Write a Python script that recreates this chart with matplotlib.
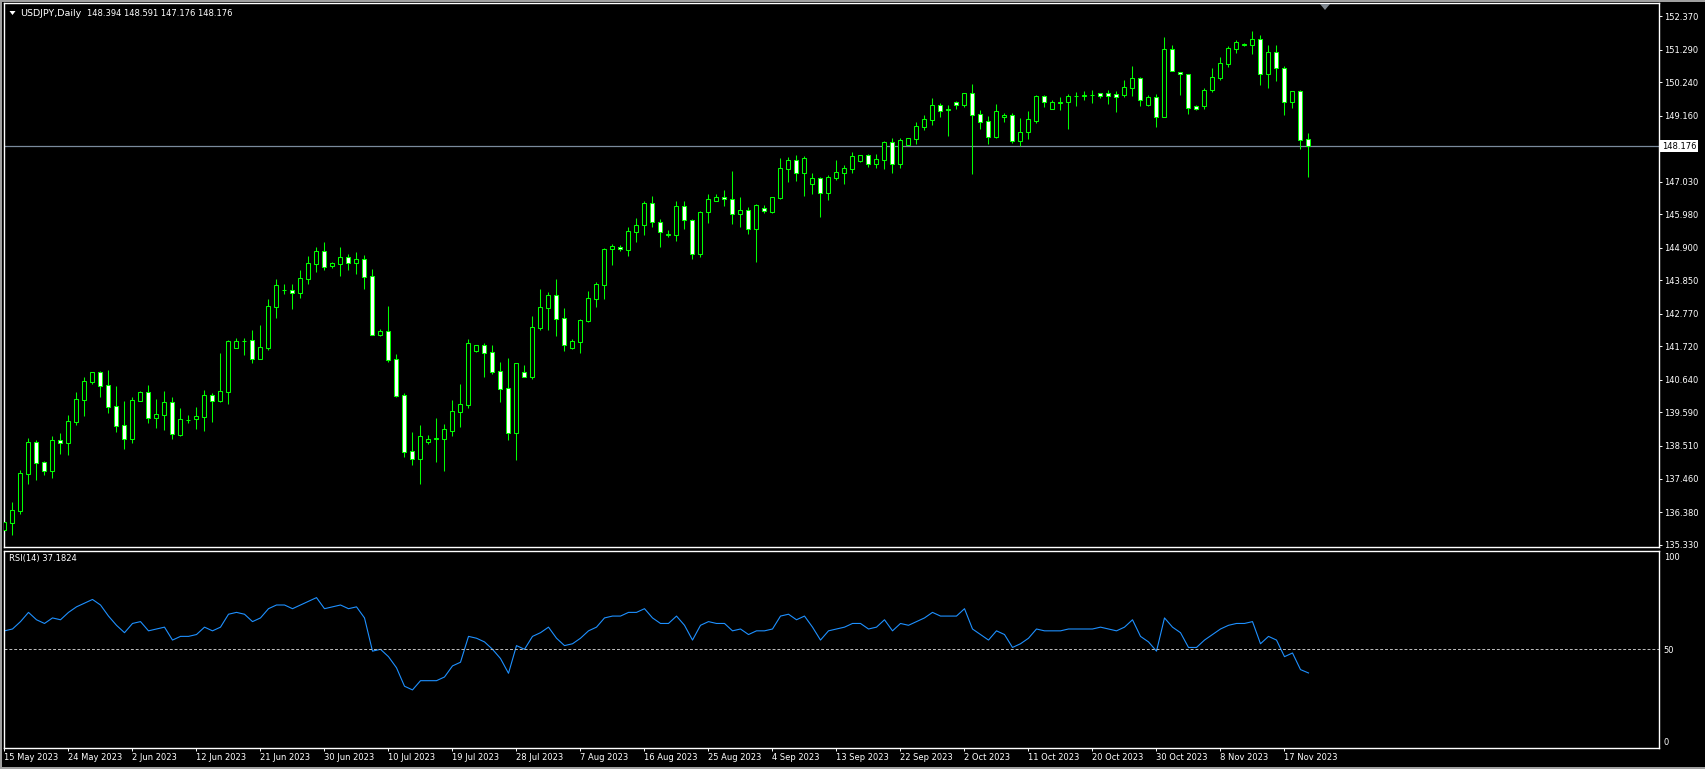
import matplotlib
matplotlib.use("Agg")
import matplotlib.pyplot as plt
from matplotlib.patches import Polygon, Rectangle
from matplotlib.transforms import blended_transform_factory
import numpy as np

# ---------------- data ----------------
opens = [135.81, 136.04, 136.42, 137.62, 138.63, 137.98, 137.71, 138.69, 138.59, 139.29,
         140.00, 140.58, 140.88, 140.46, 139.79, 139.17, 138.74, 139.97, 140.24, 139.42,
         139.52, 139.92, 138.87, 139.35, 139.37, 139.45, 140.14, 139.97, 140.26, 141.68,
         141.89, 141.91, 141.32, 141.68, 143.00, 143.53, 143.53, 143.45, 143.90, 144.39,
         144.78, 144.30, 144.39, 144.59, 144.42, 144.53, 143.98, 142.10, 142.20, 141.30,
         140.14, 138.34, 138.10, 138.64, 138.74, 138.74, 139.00, 139.61, 139.84, 141.58,
         141.75, 141.53, 140.91, 140.37, 138.92, 140.88, 140.74, 142.32, 142.97, 143.37,
         142.62, 141.68, 141.87, 142.55, 143.26, 143.71, 144.85, 144.92, 144.84, 145.42,
         145.62, 146.33, 145.72, 145.32, 145.32, 146.23, 145.78, 144.69, 146.04, 146.42,
         146.52, 146.46, 145.98, 146.11, 145.49, 146.17, 146.06, 146.51, 147.45, 147.73,
         147.32, 146.96, 147.15, 146.68, 147.16, 147.32, 147.45, 147.71, 147.88, 147.61,
         147.74, 148.31, 147.61, 148.22, 148.42, 148.80, 149.03, 149.49, 149.35, 149.59,
         149.51, 149.88, 149.20, 148.97, 148.48, 149.10, 149.17, 148.35, 148.62, 149.00,
         149.78, 149.36, 149.58, 149.59, 149.79, 149.80, 149.82, 149.88, 149.88, 149.86,
         149.83, 150.06, 150.37, 149.50, 149.76, 149.10, 151.30, 150.58, 150.49, 149.46,
         149.46, 149.97, 150.38, 150.83, 151.32, 151.44, 151.45, 151.62, 150.51, 151.20,
         150.68, 149.61, 149.95, 148.394]
highs = [136.34, 136.69, 137.72, 138.77, 138.70, 138.02, 138.83, 138.93, 139.51, 140.25,
         140.72, 140.90, 140.93, 140.96, 140.44, 139.96, 140.08, 140.28, 140.47, 140.02,
         140.28, 140.09, 139.73, 139.51, 139.77, 140.31, 140.22, 141.50, 141.93, 141.99,
         141.98, 142.25, 142.41, 143.25, 143.88, 143.72, 143.72, 144.17, 144.63, 144.91,
         145.08, 144.43, 144.92, 144.70, 144.76, 144.67, 144.21, 142.27, 143.02, 141.47,
         140.22, 138.96, 139.17, 138.86, 139.41, 139.22, 139.99, 140.51, 141.96, 141.75,
         141.82, 141.75, 141.20, 141.33, 141.17, 141.12, 142.70, 143.57, 143.47, 143.89,
         142.96, 141.95, 142.60, 143.50, 143.79, 144.89, 145.02, 144.98, 145.57, 145.86,
         146.39, 146.57, 145.83, 145.47, 146.42, 146.41, 145.83, 146.08, 146.63, 146.63,
         146.76, 147.37, 146.54, 146.21, 146.30, 146.28, 146.54, 147.79, 147.81, 147.89,
         147.86, 147.31, 147.17, 147.23, 147.73, 147.56, 147.98, 147.88, 147.92, 147.93,
         148.35, 148.44, 148.44, 148.45, 148.95, 149.17, 149.73, 149.55, 149.50, 149.63,
         149.88, 150.18, 149.33, 149.15, 149.53, 149.24, 149.23, 149.08, 149.31, 149.82,
         149.82, 149.65, 149.76, 149.85, 149.91, 149.95, 149.97, 149.89, 149.97, 149.96,
         150.31, 150.76, 150.40, 149.82, 149.86, 151.69, 151.44, 150.58, 150.49, 149.49,
         150.05, 150.70, 151.05, 151.40, 151.60, 151.49, 151.89, 151.76, 151.44, 151.44,
         150.76, 149.95, 149.98, 148.591]
lows = [135.71, 135.65, 136.33, 137.29, 137.41, 137.57, 137.49, 138.25, 138.22, 139.20,
        139.49, 140.51, 140.10, 139.58, 138.97, 138.42, 138.62, 139.95, 139.26, 139.09,
        139.03, 138.74, 138.84, 139.26, 139.06, 139.00, 139.29, 139.94, 139.87, 141.68,
        141.44, 141.19, 141.32, 141.61, 142.65, 143.41, 142.94, 143.29, 143.74, 144.13,
        144.18, 144.26, 143.99, 144.18, 144.05, 143.57, 142.10, 142.05, 141.23, 140.10,
        138.16, 137.90, 137.28, 138.57, 137.99, 137.70, 138.84, 139.13, 139.74, 141.54,
        140.74, 140.83, 139.94, 138.70, 138.06, 140.74, 140.67, 142.25, 142.25, 142.05,
        141.57, 141.64, 141.51, 142.50, 143.00, 143.26, 144.34, 144.80, 144.64, 145.08,
        145.31, 145.57, 144.93, 145.26, 145.13, 145.51, 144.55, 144.61, 145.71, 146.39,
        146.25, 145.66, 145.58, 145.34, 144.44, 146.03, 146.03, 146.47, 147.02, 147.05,
        146.57, 146.63, 145.90, 146.44, 147.08, 146.95, 147.32, 147.66, 147.51, 147.47,
        147.44, 147.32, 147.48, 148.22, 148.24, 148.70, 148.86, 149.11, 148.50, 149.37,
        149.45, 147.28, 148.73, 148.24, 148.45, 148.96, 148.29, 148.19, 148.42, 148.93,
        149.45, 149.36, 149.35, 148.74, 149.48, 149.67, 149.58, 149.72, 149.53, 149.29,
        149.77, 149.80, 149.48, 149.47, 148.79, 149.10, 150.59, 149.83, 149.20, 149.33,
        149.38, 149.93, 150.31, 150.73, 151.18, 151.41, 151.16, 150.15, 150.05, 150.27,
        149.18, 149.40, 148.09, 147.176]
closes = [136.05, 136.43, 137.63, 138.63, 137.97, 137.71, 138.69, 138.59, 139.30, 140.01,
          140.59, 140.88, 140.45, 139.78, 139.16, 138.74, 139.98, 140.24, 139.42, 139.53,
          139.92, 138.88, 139.37, 139.36, 139.46, 140.15, 139.97, 140.27, 141.88, 141.88,
          141.90, 141.32, 141.69, 143.01, 143.69, 143.53, 143.45, 143.91, 144.40, 144.78,
          144.29, 144.40, 144.59, 144.42, 144.53, 143.97, 142.10, 142.20, 141.29, 140.13,
          138.33, 138.10, 138.82, 138.72, 138.75, 139.04, 139.63, 139.85, 141.82, 141.75,
          141.52, 140.90, 140.36, 138.92, 141.17, 140.74, 142.33, 142.98, 143.37, 142.61,
          141.77, 141.88, 142.56, 143.27, 143.72, 144.85, 144.94, 144.85, 145.43, 145.62,
          146.33, 145.74, 145.40, 145.33, 146.23, 145.78, 144.69, 146.04, 146.46, 146.52,
          146.46, 145.98, 146.11, 145.49, 146.27, 146.07, 146.54, 147.46, 147.73, 147.32,
          147.79, 147.15, 146.68, 147.17, 147.33, 147.46, 147.85, 147.88, 147.61, 147.75,
          148.31, 147.61, 148.36, 148.43, 148.81, 149.04, 149.49, 149.32, 149.36, 149.51,
          149.88, 149.19, 148.96, 148.48, 149.30, 149.18, 148.35, 148.62, 149.04, 149.78,
          149.59, 149.59, 149.60, 149.78, 149.80, 149.81, 149.83, 149.80, 149.78, 149.77,
          150.07, 150.37, 149.65, 149.76, 149.10, 151.30, 150.59, 150.49, 149.39, 149.36,
          149.97, 150.39, 150.84, 151.33, 151.52, 151.46, 151.62, 150.51, 151.20, 150.68,
          149.61, 149.95, 148.38, 148.176]
rsi = [60, 61, 65, 70, 66, 64, 67, 66, 70, 73,
       75, 77, 74, 68, 63, 59, 64, 65, 60, 61,
       62, 55, 57, 57, 58, 62, 60, 62, 69, 70,
       69, 65, 67, 72, 74, 74, 72, 74, 76, 78,
       72, 73, 74, 72, 73, 67, 49, 50, 46, 40,
       30, 28, 33, 33, 33, 35, 41, 43, 57, 56,
       54, 50, 45, 37, 52, 50, 57, 59, 62, 56,
       52, 53, 56, 60, 62, 67, 68, 68, 70, 70,
       72, 67, 64, 64, 68, 63, 55, 63, 65, 64,
       64, 60, 61, 58, 60, 60, 61, 68, 69, 66,
       68, 62, 55, 60, 61, 62, 64, 64, 61, 62,
       66, 60, 64, 63, 65, 67, 70, 68, 68, 68,
       72, 61, 58, 55, 60, 58, 51, 53, 56, 61,
       60, 60, 60, 61, 61, 61, 61, 62, 61, 60,
       62, 66, 57, 54, 49, 67, 62, 59, 51, 51,
       55, 58, 61, 63, 64, 64, 65, 53, 57, 55,
       46, 48, 39, 37.1824]
date_labels = ["15 May 2023", "24 May 2023", "2 Jun 2023", "12 Jun 2023", "21 Jun 2023",
               "30 Jun 2023", "10 Jul 2023", "19 Jul 2023", "28 Jul 2023", "7 Aug 2023",
               "16 Aug 2023", "25 Aug 2023", "4 Sep 2023", "13 Sep 2023", "22 Sep 2023",
               "2 Oct 2023", "11 Oct 2023", "20 Oct 2023", "30 Oct 2023", "8 Nov 2023",
               "17 Nov 2023"]
date_label_bars = [0, 8, 16, 24, 32, 40, 48, 56, 64, 72, 80, 88, 96, 104, 112, 120,
                   128, 136, 144, 152, 160]
price_ticks = [152.370, 151.290, 150.240, 149.160, 147.030, 145.980, 144.900, 143.850,
               142.770, 141.720, 140.640, 139.590, 138.510, 137.460, 136.380, 135.330]
rsi_levels = [100, 50, 0]
bid = 148.176
symbol_title = "USDJPY,Daily"
ohlc_title = "148.394 148.591 147.176 148.176"
rsi_title = "RSI(14) 37.1824"

# ---------------- layout ----------------
W, H = 1706, 769
fig = plt.figure(figsize=(W / 100, H / 100), dpi=100, facecolor="black")

def rect(x0, y0, x1, y1):
    return [x0 / W, 1 - y1 / H, (x1 - x0) / W, (y1 - y0) / H]

GREEN = "#00FF00"
WHITE = "#FFFFFF"
FS = 6

ax = fig.add_axes(rect(4, 3, 1659, 547), facecolor="black")
rax = fig.add_axes(rect(4, 551, 1659, 748), facecolor="black")

n = len(closes)
x = np.arange(n)
o = np.array(opens); h = np.array(highs); l = np.array(lows); c = np.array(closes)

xmin = -0.5 / 8
xmax = (1659 - 4 - 0.5) / 8

# wicks
ax.vlines(x, l, h, color=GREEN, lw=0.75, zorder=2)
# bodies
bull = c >= o
bottom = np.minimum(o, c)
height = np.maximum(np.abs(c - o), 0.004)
fills = np.where(bull, "black", "white")
ax.bar(x, height, bottom=bottom, width=0.5, color=fills, edgecolor=GREEN,
       linewidth=0.75, zorder=3)

ax.axhline(bid, color="#7A8A9C", lw=0.9, zorder=1)

ax.set_xlim(xmin, xmax)
ax.set_ylim(152.37 - (547 - 16) / 31.02, 152.37 + (16 - 3) / 31.02)

ax.yaxis.tick_right()
ax.set_yticks(price_ticks)
ax.set_yticklabels([f"{v:.3f}" for v in price_ticks])
ax.tick_params(axis="y", colors=WHITE, labelcolor=WHITE, labelsize=FS,
               length=2.2, width=0.7, pad=1.5, direction="out")
ax.set_xticks([])
for sp in ax.spines.values():
    sp.set_color(WHITE)
    sp.set_linewidth(1.0)

# bid price label box
tr = blended_transform_factory(ax.transAxes, ax.transData)
ax.text(1.0 + 3 / 1655, bid, f"{bid:.3f}", transform=tr, ha="left", va="center",
        fontsize=FS, color="black", clip_on=False,
        bbox=dict(facecolor="white", edgecolor="none", pad=1.2))

# RSI panel
rax.plot(x, rsi, color="#1E90FF", lw=0.8)
rax.axhline(50, color="#C0C0C0", lw=0.7, ls=(0, (3, 2)))
rax.set_xlim(xmin, xmax)
rax.set_ylim(-6.4 / 1.846, 100 + 6 / 1.846)
rax.yaxis.tick_right()
rax.set_yticks(rsi_levels)
rax.set_yticklabels([str(v) for v in rsi_levels])
rax.tick_params(axis="y", colors=WHITE, labelcolor=WHITE, labelsize=FS,
                length=0, pad=3.5)
rax.set_xticks(date_label_bars)
rax.set_xticklabels(date_labels, ha="left")
rax.tick_params(axis="x", colors=WHITE, labelcolor=WHITE, labelsize=FS,
                length=2.5, width=0.7, pad=1.0, direction="out")
for sp in rax.spines.values():
    sp.set_color(WHITE)
    sp.set_linewidth(1.0)

# titles
fig.text(20 / W, 1 - 13 / H, symbol_title, color=WHITE, fontsize=6.8, va="center", ha="left")
fig.text(87 / W, 1 - 13 / H, ohlc_title, color=WHITE, fontsize=FS, va="center", ha="left")
fig.text(9 / W, 1 - 558 / H, rsi_title, color=WHITE, fontsize=FS, va="center", ha="left")

# small down triangle before title
fig.add_artist(Polygon([[9.5 / W, 1 - 11 / H], [15.5 / W, 1 - 11 / H], [12.5 / W, 1 - 15 / H]],
                       closed=True, facecolor=WHITE, edgecolor="none", transform=fig.transFigure))
# chart shift marker
fig.add_artist(Polygon([[1320 / W, 1 - 4 / H], [1330 / W, 1 - 4 / H], [1325 / W, 1 - 10 / H]],
                       closed=True, facecolor="#808890", edgecolor="none", transform=fig.transFigure))

# outer window frame
fig.add_artist(Rectangle((0, 0), 2.5 / W, 1, transform=fig.transFigure,
                         facecolor="#A0A0A0", edgecolor="none"))
fig.add_artist(Rectangle((0, 1 - 1.5 / H), 1, 1.5 / H, transform=fig.transFigure,
                         facecolor="#A0A0A0", edgecolor="none"))
fig.add_artist(Rectangle((0, 0), 1, 2.5 / H, transform=fig.transFigure,
                         facecolor="#A0A0A0", edgecolor="none"))

fig.savefig("out.png", dpi=100, facecolor="black")
